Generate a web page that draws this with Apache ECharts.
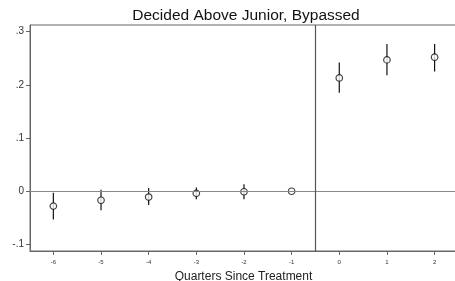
<!DOCTYPE html>
<html><head><meta charset="utf-8">
<script src="https://cdn.jsdelivr.net/npm/echarts@6/dist/echarts.min.js"></script>
<style>html,body{margin:0;padding:0;background:#fff}#c{width:455px;height:281px}</style>
</head><body><div id="c"></div>
<script>
const quarters = [-6, -5, -4, -3, -2, -1, 0, 1, 2];
const estimates = [-0.028, -0.017, -0.011, -0.004, -0.001, 0, 0.213, 0.247, 0.252];
const ciLow = [-0.053, -0.036, -0.026, -0.015, -0.015, 0, 0.185, 0.218, 0.225];
const ciHigh = [-0.003, 0.003, 0.006, 0.007, 0.013, 0, 0.242, 0.277, 0.277];
const yTicks = [-0.1, 0, 0.1, 0.2, 0.3];
const yTickLabels = ['-.1', '0', '.1', '.2', '.3'];
const xTickLabels = ['-6', '-5', '-4', '-3', '-2', '-1', '0', '1', '2'];
const treatmentLine = -0.5;

const chart = echarts.init(document.getElementById('c'), null, {renderer: 'canvas'});
const ciData = quarters.map((q, i) => [q, ciLow[i], ciHigh[i]]).filter(d => d[1] !== d[2]);
const F = 'Liberation Sans, Arial, sans-serif';
chart.setOption({
  animation: false,
  title: {text: 'Decided Above Junior, Bypassed', left: 241, textAlign: 'center', top: 3,
    textStyle: {fontFamily: F, fontSize: 15.5, fontWeight: 'normal', color: '#111'}},
  grid: {left: 30, right: -2, top: 25, bottom: 30, show: true, borderColor: '#666', borderWidth: 1,
    outerBoundsMode: 'none', containLabel: false},
  xAxis: {type: 'value', min: -6.49, max: 2.47,
    name: 'Quarters Since Treatment', nameLocation: 'middle', nameGap: 20, nameMoveOverlap: false,
    nameTextStyle: {fontFamily: F, fontSize: 12, color: '#222', align: 'center'},
    axisLine: {show: true, onZero: false, lineStyle: {color: '#666'}},
    splitLine: {show: false},
    axisTick: {show: true, customValues: quarters, length: 4, lineStyle: {color: '#666'}},
    axisLabel: {customValues: quarters, fontFamily: F, fontSize: 6, color: '#333', margin: 8,
      formatter: v => xTickLabels[quarters.indexOf(Math.round(v))]}
  },
  yAxis: {type: 'value', min: -0.1124, max: 0.3126,
    axisLine: {show: true, onZero: false, lineStyle: {color: '#666'}},
    splitLine: {show: false},
    axisTick: {show: true, customValues: yTicks, length: 4, lineStyle: {color: '#666'}},
    axisLabel: {customValues: yTicks, fontFamily: F, fontSize: 10, color: '#333', margin: 6,
      formatter: v => { let i = yTicks.findIndex(t => Math.abs(t - v) < 1e-6); return i >= 0 ? yTickLabels[i] : ''; }}
  },
  series: [
    {type: 'line', data: [], silent: true,
      markLine: {silent: true, symbol: 'none', label: {show: false},
        data: [{yAxis: 0, lineStyle: {color: '#888', width: 1.2, type: 'solid'}},
               {xAxis: treatmentLine, lineStyle: {color: '#555', width: 1.2, type: 'solid'}}]}},
    {type: 'custom', data: ciData, z: 3,
      renderItem: (params, api) => {
        const p1 = api.coord([api.value(0), api.value(1)]);
        const p2 = api.coord([api.value(0), api.value(2)]);
        return {type: 'line', shape: {x1: p1[0], y1: p1[1], x2: p2[0], y2: p2[1]},
          style: {stroke: '#111', lineWidth: 1.2}};
      }},
    {type: 'scatter', data: quarters.map((q, i) => [q, estimates[i]]), z: 4,
      symbol: 'circle', symbolSize: 6.5,
      itemStyle: {color: '#fff', borderColor: '#111', borderWidth: 1.2}}
  ]
});
</script></body></html>
